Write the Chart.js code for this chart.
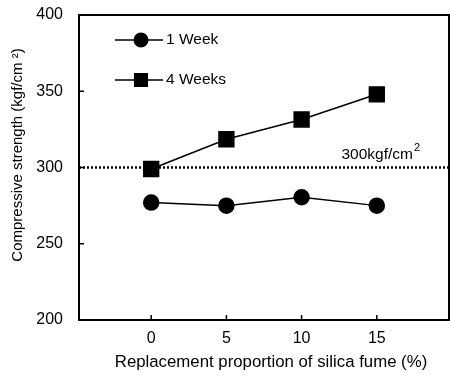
<!DOCTYPE html>
<html><head><meta charset="utf-8">
<script src="https://cdn.jsdelivr.net/npm/chart.js@4"></script>
<style>html,body{margin:0;padding:0;background:#fff}#wrap{width:450px;height:390px}</style>
</head><body><div id="wrap"><canvas id="c" width="450" height="390"></canvas></div>
<script>
const proportions = [0, 5, 10, 15];
const week1 = [277, 275, 280.5, 275];
const week4 = [299, 318.5, 331.5, 348];
const xTicks = [0, 5, 10, 15];
const yTicks = [200, 250, 300, 350, 400];
const targetStrength = 300;
const targetLabel = '300kgf/cm²';
const seriesNames = ['1 Week', '4 Weeks'];

const FONT = 'Liberation Sans, Arial, sans-serif';

const framePlugin = {
  id: 'frame',
  afterDatasetsDraw(chart) {
    const {ctx, chartArea: a, scales: {x, y}} = chart;
    ctx.save();
    // reference line
    const yp = y.getPixelForValue(targetStrength);
    ctx.strokeStyle = '#000';
    ctx.lineWidth = 2.5;
    ctx.setLineDash([2, 2]);
    ctx.beginPath(); ctx.moveTo(a.left, yp); ctx.lineTo(a.right, yp); ctx.stroke();
    ctx.setLineDash([]);
    ctx.fillStyle = '#000';
    ctx.font = '15.5px ' + FONT;
    ctx.textAlign = 'right'; ctx.textBaseline = 'alphabetic';
    ctx.fillText(targetLabel.replace('²',''), 413, yp - 9);
    ctx.font = '11px ' + FONT;
    ctx.textAlign = 'left';
    ctx.fillText('2', 414, yp - 17);
    // frame
    ctx.lineWidth = 2;
    ctx.strokeRect(a.left, a.top, a.right - a.left, a.bottom - a.top);
    // inward ticks
    ctx.lineWidth = 1.5;
    yTicks.forEach(v => {
      const p = y.getPixelForValue(v);
      ctx.beginPath(); ctx.moveTo(a.left, p); ctx.lineTo(a.left + 5, p); ctx.stroke();
    });
    xTicks.forEach(v => {
      const p = x.getPixelForValue(v);
      ctx.beginPath(); ctx.moveTo(p, a.bottom); ctx.lineTo(p, a.bottom - 5); ctx.stroke();
    });
    // legend
    ctx.font = '15.5px ' + FONT;
    ctx.textBaseline = 'middle';
    chart.data.datasets.forEach((ds, i) => {
      const ly = a.top + 25 + i * 40;
      const lx = 115;
      ctx.lineWidth = 1.5;
      ctx.beginPath(); ctx.moveTo(lx, ly); ctx.lineTo(lx + 48, ly); ctx.stroke();
      Chart.helpers.drawPoint(ctx, {pointStyle: ds.pointStyle, radius: ds.pointRadius * (i ? 0.85 : 0.9), rotation: 0, borderWidth: 1}, lx + 26, ly);
      ctx.fill();
      ctx.fillText(ds.label, lx + 51, ly);
    });
    ctx.restore();
  }
};

new Chart(document.getElementById('c'), {
  type: 'scatter',
  data: {
    datasets: [
      {label: seriesNames[0], data: proportions.map((p, i) => ({x: p, y: week1[i]})), showLine: true,
       borderColor: '#000', backgroundColor: '#000', borderWidth: 1.5, pointStyle: 'circle', pointRadius: 7.5},
      {label: seriesNames[1], data: proportions.map((p, i) => ({x: p, y: week4[i]})), showLine: true,
       borderColor: '#000', backgroundColor: '#000', borderWidth: 1.5, pointStyle: 'rect', pointRadius: 10.5}
    ]
  },
  plugins: [framePlugin],
  options: {
    responsive: false, animation: false, devicePixelRatio: 1,
    layout: {autoPadding: false, padding: {top: 15, right: 1, left: 0, bottom: 0}},
    plugins: {legend: {display: false}, tooltip: {enabled: false}},
    scales: {
      x: {
        type: 'linear', min: -4.8, max: 19.8,
        afterBuildTicks: s => { s.ticks = xTicks.map(v => ({value: v})); },
        afterFit: s => { s.height = 70; s.paddingLeft = 0; s.paddingRight = 0; },
        grid: {display: false, drawTicks: false},
        border: {display: false},
        ticks: {color: '#000', padding: 9, font: {family: FONT, size: 16}},
        title: {display: true, text: '   Replacement proportion of silica fume (%)', color: '#000',
                font: {family: FONT, size: 16.8}, padding: {top: 0, bottom: 18}}
      },
      y: {
        min: 200, max: 400,
        afterBuildTicks: s => { s.ticks = yTicks.map(v => ({value: v})); },
        afterFit: s => { s.width = 79; s.paddingTop = 0; s.paddingBottom = 0; },
        grid: {display: false, drawTicks: false},
        border: {display: false},
        ticks: {color: '#000', padding: 16, font: {family: FONT, size: 16}},
        title: {display: true, text: '      Compressive strength (kgf/cm ²)', color: '#000',
                font: {family: FONT, size: 15}, padding: {top: 9, bottom: 0}}
      }
    }
  }
});
</script></body></html>
